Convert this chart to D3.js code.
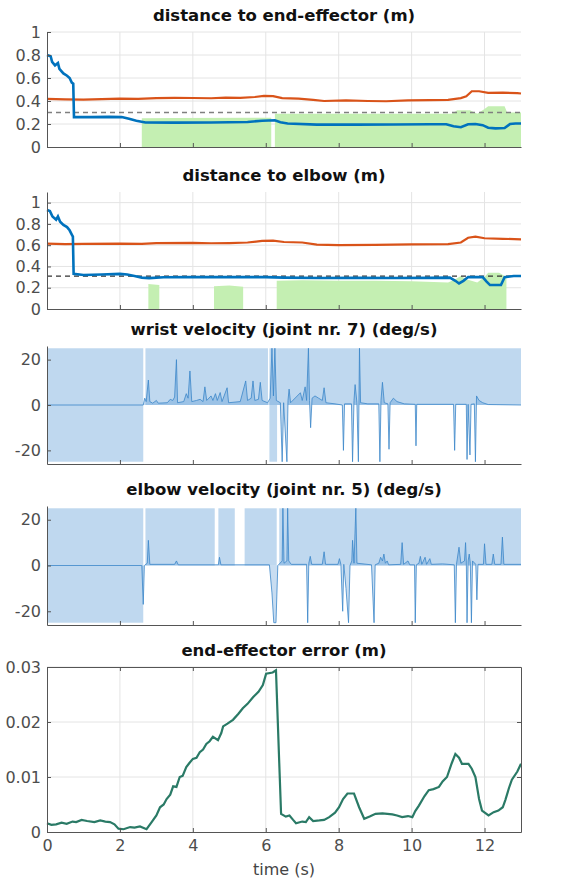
<!DOCTYPE html>
<html lang="en">
<head>
<meta charset="UTF-8">
<title>robot motion panels</title>
<script src="https://d3js.org/d3.v7.min.js"></script>
<style>
  body { margin: 0; background: #fff; }
  svg text { font-family: "DejaVu Sans", sans-serif; }
  .title { font-weight: bold; font-size: 16.5px; fill: #111; }
  .axis text { font-size: 16px; fill: #4d4d4d; }
  .axis path, .axis line { stroke: #555; }
  .grid line { stroke: #e4e4e4; stroke-width: 1; }
</style>
</head>
<body>
<svg width="568" height="880"></svg>
<script>
// ticks and limits
const timeTicks = [0, 2, 4, 6, 8, 10, 12];
const distTicks = [0, 0.2, 0.4, 0.6, 0.8, 1];
const velTicks = [-20, 0, 20];
const errTicks = [0, 0.01, 0.02, 0.03];
const eeThreshold = 0.3;
const elbowThreshold = 0.31;
const velLimit = 25;

// distance to end-effector: [t, m]
const eeMinDist = [[0,0.80],[0.1,0.79],[0.14,0.74],[0.22,0.71],[0.3,0.73],[0.34,0.68],[0.45,0.64],[0.55,0.62],[0.62,0.60],[0.68,0.56],[0.72,0.55],[0.74,0.26],[1.2,0.26],[1.7,0.262],[2.05,0.26],[2.25,0.245],[2.45,0.228],[2.7,0.213],[3.5,0.212],[4.5,0.213],[5.5,0.218],[5.9,0.228],[6.25,0.232],[6.4,0.215],[6.6,0.205],[7.4,0.195],[8.5,0.195],[9.5,0.196],[10.5,0.198],[10.95,0.198],[11.15,0.18],[11.35,0.172],[11.55,0.198],[11.75,0.2],[11.95,0.19],[12.1,0.168],[12.3,0.162],[12.55,0.165],[12.7,0.2],[12.85,0.205],[13,0.205]];
const eeOther = [[0,0.418],[0.5,0.414],[1.0,0.412],[1.5,0.416],[2.0,0.42],[2.5,0.418],[3.0,0.425],[3.5,0.428],[4.0,0.426],[4.5,0.424],[4.9,0.43],[5.3,0.428],[5.7,0.435],[5.95,0.445],[6.2,0.443],[6.45,0.425],[6.9,0.42],[7.3,0.41],[7.6,0.4],[8.2,0.405],[8.8,0.4],[9.3,0.398],[9.9,0.405],[10.5,0.408],[11.0,0.41],[11.35,0.425],[11.5,0.44],[11.65,0.485],[11.85,0.485],[12.1,0.47],[12.5,0.472],[12.9,0.468],[13,0.465]];
const eeZone = [[2.6,0],[2.6,0.25],[3.5,0.252],[6.15,0.255],[6.15,0],[6.25,0],[6.25,0.29],[8,0.29],[11.1,0.29],[11.25,0.32],[11.6,0.32],[11.8,0.29],[12.0,0.33],[12.1,0.355],[12.55,0.355],[12.62,0.3],[13,0.3]];

// distance to elbow
const elbowMinDist = [[0,0.93],[0.08,0.92],[0.15,0.87],[0.25,0.84],[0.3,0.87],[0.36,0.82],[0.45,0.79],[0.55,0.77],[0.62,0.74],[0.68,0.70],[0.71,0.68],[0.73,0.33],[1.0,0.32],[1.5,0.325],[2.0,0.33],[2.2,0.325],[2.4,0.31],[2.6,0.295],[2.8,0.29],[3.2,0.298],[4.0,0.3],[5.0,0.3],[6.0,0.3],[6.5,0.295],[7.5,0.292],[8.5,0.293],[9.5,0.292],[10.5,0.293],[11.05,0.295],[11.2,0.265],[11.3,0.24],[11.42,0.265],[11.55,0.3],[11.95,0.3],[12.05,0.26],[12.15,0.225],[12.45,0.225],[12.55,0.3],[12.8,0.31],[13,0.31]];
const elbowOther = [[0,0.615],[0.5,0.61],[1.0,0.612],[2.0,0.615],[2.6,0.612],[3.0,0.62],[4.0,0.622],[4.5,0.618],[5.0,0.62],[5.5,0.625],[5.9,0.64],[6.2,0.642],[6.5,0.63],[7.0,0.625],[7.4,0.605],[8.0,0.6],[9.0,0.603],[10.0,0.607],[11.0,0.61],[11.35,0.625],[11.55,0.67],[11.75,0.68],[12.0,0.665],[12.5,0.66],[13,0.655]];
const elbowZone = [[2.78,0],[2.78,0.235],[3.08,0.225],[3.08,0],[4.58,0],[4.58,0.215],[5.0,0.222],[5.38,0.21],[5.38,0],[6.3,0],[6.3,0.265],[7.0,0.27],[8.0,0.265],[9.0,0.265],[10.0,0.26],[11.0,0.25],[11.2,0.28],[11.35,0.31],[11.5,0.28],[11.8,0.25],[12.0,0.3],[12.1,0.34],[12.4,0.34],[12.6,0.3],[12.6,0]];

// velocity phases: [start, end, lower edge]
const wristBands = [[0,2.64,-25],[2.7,6.06,0],[6.1,6.31,-25],[6.31,13,0]];
const elbowBands = [[0,2.64,-25],[2.7,4.6,0],[4.7,5.15,0],[5.42,6.3,0],[6.37,13,0]];

// joint velocities: [t, deg/s]
const wristVel = [[0,0],[2.64,0],[2.68,3],[2.72,1.5],[2.78,11],[2.82,1.5],[2.9,0.8],[3.0,2],[3.05,0.8],[3.3,1],[3.38,2.5],[3.45,2],[3.5,3.5],[3.55,20],[3.58,1],[3.75,1.5],[3.82,5],[3.87,3],[3.92,15],[3.97,1.5],[4.1,2],[4.2,2.5],[4.28,1.5],[4.33,8],[4.38,2],[4.5,4],[4.55,2],[4.62,5],[4.67,2],[4.75,5.5],[4.8,1.5],[4.94,7.6],[4.98,1],[5.3,1.5],[5.45,10.6],[5.5,2],[5.6,3],[5.65,10.6],[5.7,2],[5.8,2.5],[5.85,10],[5.9,2],[6.05,1],[6.12,3],[6.17,25],[6.21,4],[6.25,25],[6.29,2],[6.4,1],[6.45,-25],[6.49,1],[6.58,-25],[6.61,2],[6.64,7],[6.68,1],[6.95,5.4],[7.0,2],[7.08,8],[7.12,2],[7.17,25],[7.2,2],[7.23,-10],[7.27,3],[7.35,4],[7.45,3],[7.55,2],[7.6,7.6],[7.65,1],[7.9,0.5],[8.1,0],[8.13,-20],[8.16,0.5],[8.35,0.5],[8.38,-25],[8.42,2],[8.45,9],[8.5,1],[8.54,-25],[8.57,25],[8.6,1],[8.8,0.5],[9.1,0.5],[9.13,-25],[9.16,2],[9.2,10],[9.25,1],[9.35,0.5],[9.38,-19.5],[9.41,1],[9.5,3],[9.6,1.5],[9.8,0.5],[10.1,0.3],[10.12,-18],[10.14,0.3],[11.15,0.3],[11.18,-20],[11.21,0.3],[11.5,0.3],[11.52,-24],[11.55,0.3],[11.6,-22],[11.63,0.3],[11.72,0.5],[11.75,-25],[11.78,4],[11.85,2],[11.95,1],[12.1,0.2],[13,0]];
const elbowVel = [[0,0],[2.6,0],[2.64,-17],[2.67,0],[2.75,1],[2.78,11],[2.82,0.5],[3.5,0.5],[3.55,2],[3.6,0.3],[4.7,0.3],[4.73,3.6],[4.77,0.3],[6.1,0.3],[6.17,-12],[6.22,-25],[6.28,-25],[6.33,0],[6.45,2],[6.47,25],[6.5,1],[6.58,2],[6.6,25],[6.63,2],[6.7,0.5],[7.12,0.5],[7.15,-25],[7.18,1],[7.22,4],[7.26,0.5],[7.55,0.5],[7.6,6],[7.64,0.5],[7.98,0.5],[8.02,3],[8.06,0.5],[8.11,-20],[8.14,0.5],[8.2,-10],[8.27,-25],[8.31,0],[8.36,2],[8.38,11],[8.42,1],[8.47,25],[8.5,1],[8.9,0.3],[8.97,-25],[9.0,0.3],[9.1,1],[9.15,3.6],[9.2,2],[9.24,5],[9.28,1],[9.33,2],[9.37,0.3],[9.7,0.5],[9.74,10],[9.78,0.5],[9.9,2],[9.95,0.3],[10.08,0.3],[10.1,-25],[10.13,0.3],[10.2,1],[10.24,4],[10.28,0.5],[10.37,3.6],[10.41,0.5],[10.5,3],[10.54,0.5],[10.85,0.7],[11.17,0.3],[11.2,-25],[11.23,0.5],[11.3,8],[11.35,1],[11.45,2],[11.48,10],[11.5,2],[11.52,-25],[11.55,2],[11.58,5],[11.61,1],[11.64,-25],[11.67,2],[11.76,0.5],[11.79,-15],[11.82,0.5],[11.97,0.5],[12.0,9.5],[12.04,0.5],[12.2,0.5],[12.24,5],[12.28,0.5],[12.45,0.5],[12.49,12.4],[12.53,0.5],[13,0.5]];

// end-effector error: [t, m]
const eeError = [[0,0.0016],[0.12,0.0013],[0.25,0.0014],[0.4,0.0017],[0.54,0.0015],[0.7,0.0019],[0.8,0.0018],[0.95,0.0022],[1.1,0.002],[1.3,0.0018],[1.46,0.0021],[1.6,0.0019],[1.73,0.0018],[1.85,0.0014],[1.96,0.0006],[2.1,0.0005],[2.28,0.0009],[2.4,0.0008],[2.55,0.001],[2.73,0.0005],[2.87,0.0018],[3.0,0.003],[3.1,0.0045],[3.2,0.005],[3.28,0.006],[3.38,0.0068],[3.46,0.0083],[3.55,0.0082],[3.64,0.010],[3.72,0.0102],[3.82,0.0118],[3.9,0.0125],[4.0,0.0133],[4.1,0.0135],[4.19,0.0145],[4.28,0.015],[4.37,0.016],[4.46,0.0165],[4.55,0.0173],[4.69,0.0167],[4.78,0.018],[4.83,0.0192],[4.95,0.0197],[5.1,0.0204],[5.25,0.0215],[5.37,0.0225],[5.5,0.0233],[5.65,0.0245],[5.8,0.0255],[5.92,0.0267],[6.01,0.0288],[6.19,0.029],[6.28,0.0294],[6.37,0.0125],[6.42,0.0033],[6.55,0.0028],[6.65,0.003],[6.75,0.0022],[6.83,0.0016],[7.0,0.0019],[7.1,0.0018],[7.19,0.0027],[7.3,0.002],[7.47,0.0021],[7.6,0.0022],[7.74,0.0027],[7.9,0.0035],[8.01,0.0045],[8.12,0.006],[8.24,0.007],[8.42,0.007],[8.56,0.0045],[8.7,0.0024],[8.85,0.0028],[9.01,0.0033],[9.2,0.0034],[9.47,0.0032],[9.6,0.003],[9.74,0.0027],[9.9,0.0029],[10.02,0.0027],[10.1,0.0038],[10.2,0.0048],[10.35,0.0065],[10.47,0.0076],[10.6,0.0078],[10.75,0.0082],[10.85,0.0092],[10.97,0.010],[11.1,0.0125],[11.2,0.0142],[11.3,0.0135],[11.38,0.0124],[11.56,0.0124],[11.65,0.0115],[11.75,0.010],[11.85,0.006],[11.93,0.0039],[12.11,0.003],[12.25,0.0036],[12.38,0.0039],[12.5,0.0045],[12.57,0.0058],[12.67,0.008],[12.75,0.0095],[12.9,0.011],[13,0.0124]];

const svg = d3.select("svg");
const L = 47, R = 521;
const x = d3.scaleLinear().domain([0, 13]).range([L, R]);

function panel(top, bottom, domain, yTicks, titleText, opts) {
  const g = svg.append("g");
  const y = d3.scaleLinear().domain(domain).range([bottom, top]);
  if (opts.grid) {
    const grid = g.append("g").attr("class", "grid");
    grid.selectAll(".v").data(timeTicks.slice(1)).enter().append("line")
      .attr("x1", d => x(d)).attr("x2", d => x(d)).attr("y1", top).attr("y2", bottom);
    grid.selectAll(".h").data(yTicks.slice(1)).enter().append("line")
      .attr("x1", L).attr("x2", R).attr("y1", d => y(d)).attr("y2", d => y(d));
  }
  g.append("text").attr("class", "title").attr("x", (L + R) / 2).attr("y", top - 11)
    .attr("text-anchor", "middle").text(titleText);
  return { g, y, top, bottom };
}

function axes(p, showX, box) {
  const xa = d3.axisBottom(x).tickValues(timeTicks).tickSize(-4).tickSizeOuter(0).tickPadding(8)
    .tickFormat(showX ? d => String(d) : () => "");
  p.g.append("g").attr("class", "axis").attr("transform", `translate(0,${p.bottom})`).call(xa);
  const ya = d3.axisLeft(p.y).tickValues(p.ticks).tickSize(-4).tickSizeOuter(0).tickPadding(6)
    .tickFormat(d => String(d));
  p.g.append("g").attr("class", "axis").attr("transform", `translate(${L},0)`).call(ya);
  if (box) {
    p.g.append("g").attr("class", "axis").attr("transform", `translate(0,${p.top})`)
      .call(d3.axisTop(x).tickValues(timeTicks).tickSize(-4).tickSizeOuter(0).tickFormat(() => ""));
    p.g.append("g").attr("class", "axis").attr("transform", `translate(${R},0)`)
      .call(d3.axisRight(p.y).tickValues(p.ticks).tickSize(-4).tickSizeOuter(0).tickFormat(() => ""));
  }
  p.g.selectAll(".axis .domain").attr("stroke", "#555");
}

function distPanel(top, bottom, domain, title, zone, thr, thrColor, other, minD) {
  const p = panel(top, bottom, domain, distTicks, title, { grid: true });
  p.ticks = distTicks;
  p.g.append("path").datum(zone)
    .attr("d", d3.area().x(d => x(d[0])).y0(p.y(0)).y1(d => p.y(d[1])))
    .attr("fill", "#c4efb2");
  p.g.append("line").attr("x1", L).attr("x2", R).attr("y1", p.y(thr)).attr("y2", p.y(thr))
    .attr("stroke", thrColor).attr("stroke-width", 1.3).attr("stroke-dasharray", "5,4");
  const line = d3.line().x(d => x(d[0])).y(d => p.y(d[1]));
  p.g.append("path").datum(other).attr("d", line).attr("fill", "none")
    .attr("stroke", "#D95319").attr("stroke-width", 2.2);
  p.g.append("path").datum(minD).attr("d", line).attr("fill", "none")
    .attr("stroke", "#0072BD").attr("stroke-width", 2.6);
  axes(p, false, false);
}

function velPanel(top, bottom, title, bands, vel) {
  const p = panel(top, bottom, [-26, 26], velTicks, title, { grid: false });
  p.ticks = velTicks;
  p.g.selectAll(".band").data(bands).enter().append("rect")
    .attr("x", d => x(d[0])).attr("width", d => x(d[1]) - x(d[0]))
    .attr("y", p.y(velLimit)).attr("height", d => p.y(d[2]) - p.y(velLimit))
    .attr("fill", "#bfd8ef");
  p.g.append("path").datum(vel)
    .attr("d", d3.area().x(d => x(d[0])).y0(p.y(0)).y1(d => p.y(d[1])))
    .attr("fill", "#4a90d0").attr("fill-opacity", 0.3);
  p.g.append("path").datum(vel)
    .attr("d", d3.line().x(d => x(d[0])).y(d => p.y(d[1])))
    .attr("fill", "none").attr("stroke", "#3b86c9").attr("stroke-width", 0.8);
  axes(p, false, false);
}

distPanel(32, 147, [0, 1], "distance to end-effector (m)", eeZone, eeThreshold, "#7f7f7f", eeOther, eeMinDist);
distPanel(192, 309, [0, 1.1], "distance to elbow (m)", elbowZone, elbowThreshold, "#333", elbowOther, elbowMinDist);
velPanel(346, 464, "wrist velocity (joint nr. 7) (deg/s)", wristBands, wristVel);
velPanel(506, 625, "elbow velocity (joint nr. 5) (deg/s)", elbowBands, elbowVel);

const pe = panel(667, 832, [0, 0.03], errTicks, "end-effector error (m)", { grid: true });
pe.ticks = errTicks;
pe.g.append("path").datum(eeError)
  .attr("d", d3.line().x(d => x(d[0])).y(d => pe.y(d[1])))
  .attr("fill", "none").attr("stroke", "#2a7a66").attr("stroke-width", 2.2);
axes(pe, true, true);
svg.append("text").attr("x", (L + R) / 2).attr("y", 875).attr("text-anchor", "middle")
  .attr("font-size", 16).attr("fill", "#444").text("time (s)");
</script>
</body>
</html>
